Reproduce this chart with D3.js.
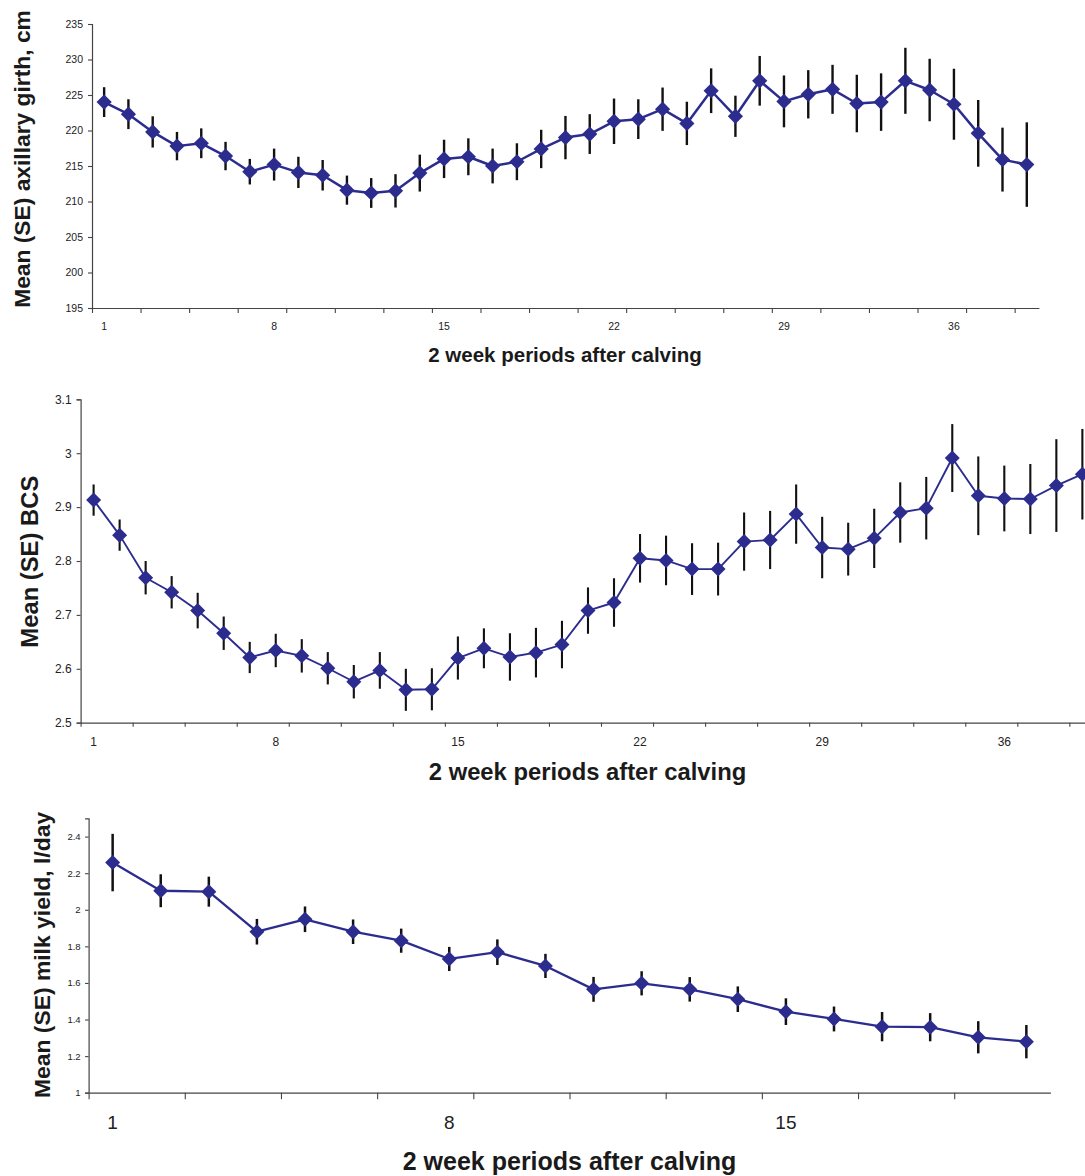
<!DOCTYPE html>
<html>
<head>
<meta charset="utf-8">
<script src="https://d3js.org/d3.v7.min.js"></script>
<style>
  html, body { margin: 0; padding: 0; background: #fff; }
  svg { display: block; }
  text { font-family: "Liberation Sans", Arial, sans-serif; }
</style>
</head>
<body>
<svg id="chart" width="1085" height="1176"></svg>
<script>
// ---------- DATA ----------
const girthMean = [224.0,222.3,219.8,217.8,218.2,216.4,214.2,215.2,214.1,213.7,211.6,211.2,211.5,214.0,216.0,216.3,215.0,215.6,217.4,219.0,219.5,221.3,221.6,223.0,221.0,225.6,222.0,227.0,224.1,225.1,225.8,223.8,224.0,227.0,225.7,223.7,219.6,215.9,215.2];
const girthSE   = [2.1,2.1,2.2,2.0,2.1,2.0,1.8,2.25,2.2,2.15,2.05,2.1,2.35,2.6,2.7,2.6,2.45,2.6,2.7,3.05,2.8,3.2,2.8,3.05,3.05,3.15,2.9,3.5,3.65,3.4,3.45,4.05,4.05,4.65,4.4,5.0,4.7,4.5,5.95];

const bcsMean = [2.913,2.848,2.769,2.742,2.708,2.666,2.621,2.634,2.624,2.601,2.576,2.597,2.561,2.562,2.620,2.638,2.622,2.630,2.645,2.708,2.723,2.805,2.801,2.785,2.785,2.836,2.839,2.887,2.825,2.822,2.842,2.890,2.898,2.991,2.921,2.916,2.915,2.940,2.961];
const bcsSE   = [0.029,0.029,0.031,0.030,0.033,0.031,0.029,0.031,0.031,0.030,0.031,0.034,0.039,0.039,0.040,0.037,0.044,0.046,0.044,0.043,0.045,0.045,0.046,0.048,0.049,0.054,0.054,0.055,0.057,0.049,0.055,0.056,0.058,0.063,0.073,0.061,0.065,0.086,0.084];

const milkMean = [2.258,2.104,2.099,1.880,1.948,1.880,1.831,1.731,1.768,1.693,1.565,1.598,1.565,1.511,1.443,1.403,1.361,1.358,1.303,1.279];
const milkSE   = [0.157,0.090,0.082,0.070,0.070,0.067,0.066,0.066,0.070,0.066,0.068,0.066,0.067,0.070,0.073,0.068,0.080,0.077,0.088,0.091];

const girthYTicks = [195,200,205,210,215,220,225,230,235];
const bcsYTicks   = [2.5,2.6,2.7,2.8,2.9,3.0,3.1];
const milkYTicks  = [1,1.2,1.4,1.6,1.8,2,2.2,2.4];
const longXLabels  = [1,8,15,22,29,36];
const shortXLabels = [1,8,15];

const xTitle = "2 week periods after calving";

// ---------- LAYOUT ----------
const svg = d3.select("#chart");
const MARK = "#2B2C8E";
const AXIS = "#444";

const panels = [
  { mean: girthMean, se: girthSE, yDomain: [195,235], yTicks: girthYTicks, xLabels: longXLabels,
    x0: 92, catW: 24.28, yTop: 24, yBot: 308,
    yTickLen: 4, xTickLen: 5, yLabSize: 10.5, yLabGap: 9, xLabSize: 10.5, xLabY: 329.5,
    yTitle: "Mean (SE) axillary girth, cm", yTitleX: 29.5, yTitleY: 159, yTitleSize: 22.8,
    xTitleX: 565, xTitleY: 362, xTitleSize: 20.5,
    lineW: 2.5, errW: 2.4, mSize: 7.6 },
  { mean: bcsMean, se: bcsSE, yDomain: [2.5,3.1], yTicks: bcsYTicks, xLabels: longXLabels,
    x0: 80.6, catW: 26.02, yTop: 399.3, yBot: 722.7,
    yTickLen: 4, xTickLen: 4, yLabSize: 12, yLabGap: 9, xLabSize: 12, xLabY: 746,
    yTitle: "Mean (SE) BCS", yTitleX: 38.3, yTitleY: 561.7, yTitleSize: 23.8,
    xTitleX: 587.5, xTitleY: 780, xTitleSize: 23.8,
    lineW: 1.9, errW: 2.1, mSize: 7.5 },
  { mean: milkMean, se: milkSE, yDomain: [1,2.5], yTicks: milkYTicks, xLabels: shortXLabels,
    x0: 88.6, catW: 48.09, yTop: 818.3, yBot: 1092.7,
    yTickLen: 3.5, xTickLen: 6.5, yLabSize: 9.5, yLabGap: 8, xLabSize: 19, xLabY: 1129,
    yTitle: "Mean (SE) milk yield, l/day", yTitleX: 50, yTitleY: 955, yTitleSize: 22.9,
    xTitleX: 569.5, xTitleY: 1170, xTitleSize: 25,
    lineW: 2.3, errW: 2.5, mSize: 7.5 }
];

const fmt = v => String(+v.toFixed(2));

panels.forEach(p => {
  const n = p.mean.length;
  const data = p.mean.map((m, i) => ({ cat: i + 1, m, se: p.se[i] }));
  const x = d3.scaleLinear().domain([0.5, n + 0.5]).range([p.x0, p.x0 + n * p.catW]);
  const y = d3.scaleLinear().domain(p.yDomain).range([p.yBot, p.yTop]);
  const g = svg.append("g");

  // Y axis
  const yAxis = d3.axisLeft(y).tickValues(p.yTicks).tickSize(p.yTickLen).tickPadding(p.yLabGap - p.yTickLen).tickFormat(fmt);
  const ya = g.append("g").attr("transform", `translate(${p.x0},0)`).call(yAxis);
  ya.select(".domain").attr("stroke", AXIS).attr("stroke-width", 1.2);
  ya.selectAll(".tick line").attr("stroke", AXIS).attr("stroke-width", 1.1);
  ya.selectAll(".tick text").attr("fill", "#222").attr("font-size", p.yLabSize)
    .style("font-family", "'Liberation Sans', Arial, sans-serif");

  // X axis ticks (boundaries every 2 categories)
  const tickVals = d3.range(0.5, n + 0.5, 2);
  const xAxis = d3.axisBottom(x).tickValues(tickVals).tickSize(p.xTickLen).tickSizeOuter(0).tickFormat("");
  const xa = g.append("g").attr("transform", `translate(0,${p.yBot})`).call(xAxis);
  xa.select(".domain").attr("stroke", AXIS).attr("stroke-width", 1.2);
  xa.selectAll(".tick line").attr("stroke", AXIS).attr("stroke-width", 1.1);

  // X labels
  g.selectAll(".xlab").data(p.xLabels).enter().append("text")
    .attr("class", "xlab")
    .attr("x", d => x(d)).attr("y", p.xLabY)
    .attr("text-anchor", "middle").attr("font-size", p.xLabSize).attr("fill", "#222")
    .text(d => d);

  // Line
  const line = d3.line().x(d => x(d.cat)).y(d => y(d.m));
  g.append("path").datum(data).attr("d", line)
    .attr("fill", "none").attr("stroke", MARK).attr("stroke-width", p.lineW).attr("stroke-linejoin", "round");

  // Error bars
  g.selectAll(".err").data(data).enter().append("line")
    .attr("x1", d => x(d.cat)).attr("x2", d => x(d.cat))
    .attr("y1", d => y(d.m - d.se)).attr("y2", d => y(d.m + d.se))
    .attr("stroke", "#111").attr("stroke-width", p.errW);

  // Diamonds
  const s = p.mSize;
  g.selectAll(".mk").data(data).enter().append("path")
    .attr("d", d => { const cx = x(d.cat), cy = y(d.m); return `M${cx},${cy - s}L${cx + s},${cy}L${cx},${cy + s}L${cx - s},${cy}Z`; })
    .attr("fill", MARK);

  // Titles
  g.append("text").attr("x", p.xTitleX).attr("y", p.xTitleY)
    .attr("text-anchor", "middle").attr("font-weight", "bold").attr("font-size", p.xTitleSize).attr("fill", "#1a1a1a")
    .text(xTitle);
  g.append("text").attr("transform", `translate(${p.yTitleX},${p.yTitleY}) rotate(-90)`)
    .attr("text-anchor", "middle").attr("font-weight", "bold").attr("font-size", p.yTitleSize).attr("fill", "#1a1a1a")
    .text(p.yTitle);
});
</script>
</body>
</html>
